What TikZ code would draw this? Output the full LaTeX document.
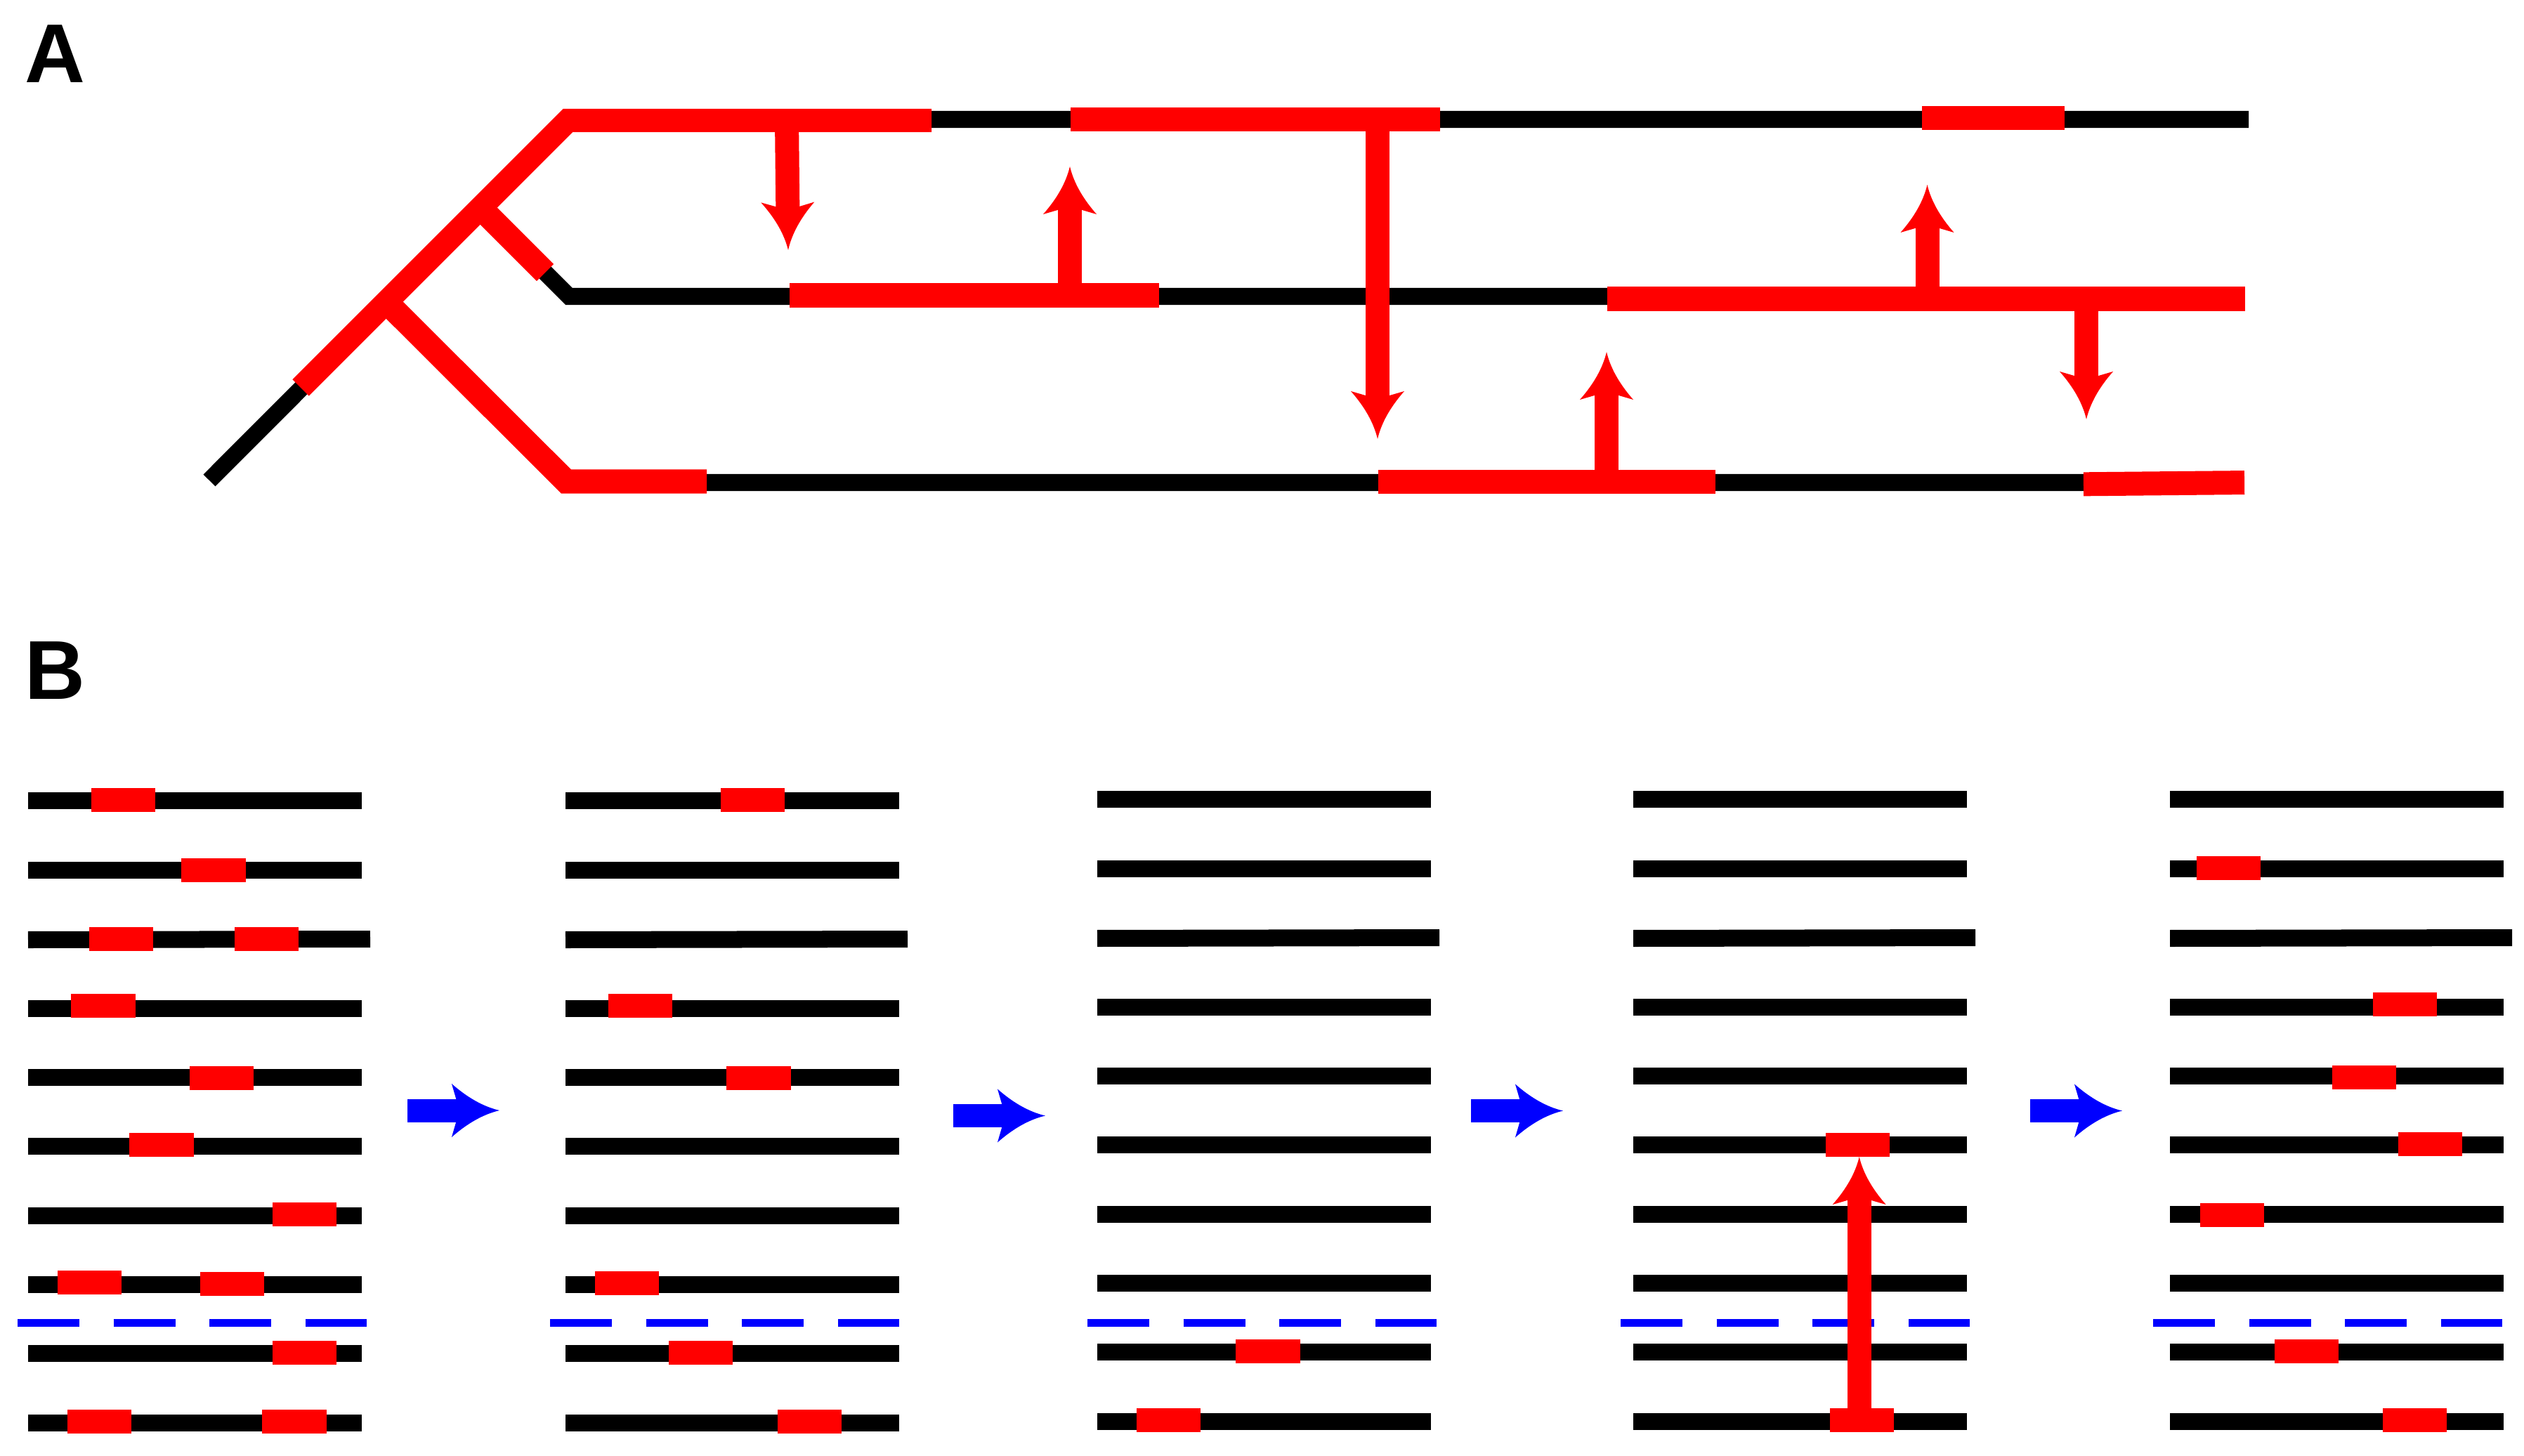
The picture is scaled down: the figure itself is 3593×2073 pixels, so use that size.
\documentclass[tikz,border=0pt]{standalone}
\usepackage{fontspec}
\setmainfont{Liberation Sans}
\usepackage{tikz}
\pgfdeclarearrow{
  name=Barb,
  setup code={
    \pgfarrowssettipend{0pt}
    \pgfarrowssetlineend{-16.2pt}
    \pgfarrowssetvisualbackend{-19.35pt}
    \pgfarrowssetbackend{-19.35pt}
  },
  drawing code={
    \pgfpathmoveto{\pgfpoint{0pt}{0pt}}
    \pgfpathquadraticcurveto{\pgfpoint{-9.67pt}{2.28pt}}{\pgfpoint{-19.35pt}{10.81pt}}
    \pgfpathlineto{\pgfpoint{-16.2pt}{0pt}}
    \pgfpathlineto{\pgfpoint{-19.35pt}{-10.81pt}}
    \pgfpathquadraticcurveto{\pgfpoint{-9.67pt}{-2.28pt}}{\pgfpoint{0pt}{0pt}}
    \pgfpathclose
    \pgfusepathqfill
  }
}

\begin{document}
\begin{tikzpicture}[x=0.01cm, y=-0.01cm,
  lane/.style = {draw=black, line width=0.24cm},
  redbar/.style = {draw=red, line width=0.33cm},
  cutline/.style = {draw=blue, line width=0.11cm, dash pattern=on 0.88cm off 0.485cm},
  seg/.style = {fill=red, inner sep=0pt, minimum height=0.34cm},
  hit/.style = {seg, minimum width=0.91cm},
  jump/.style = {draw=red, line width=0.34cm, -Barb},
  flow/.style = {draw=blue, line width=0.33cm, -Barb},
  tag/.style = {anchor=base west, inner sep=0pt, font=\bfseries\fontsize{33.8pt}{40pt}\selectfont}]
\useasboundingbox (0,0) rectangle (3593,2073);
\node[tag] (tagA) at (35,118) {A};
\node[tag] (tagB) at (35,995) {B};

\coordinate (stem) at (298,684);
\coordinate (apex) at (811,170);
\coordinate (topend) at (3201,170);
\coordinate (fork1) at (684,296);
\coordinate (bend1) at (810,422);
\coordinate (midend) at (3195,422);
\coordinate (fork2) at (550,430);
\coordinate (bend2) at (806,687);
\coordinate (lowend) at (3193,687);
\draw[lane] (stem) -- (apex) -- (topend);
\draw[lane] (fork1) -- (bend1) -- (midend);
\draw[lane] (fork2) -- (bend2) -- (lowend);

\coordinate (stemcut) at (428,552);
\coordinate (apexr) at (808.5,171.5);
\coordinate (top1) at (1326,171.5);
\coordinate (branch) at (776,388);
\coordinate (bendr) at (806,685.5);
\coordinate (low1) at (1006,685.5);
\draw[redbar] (stemcut) -- (apexr) -- (top1);
\draw[redbar, line width=0.34cm] (fork1) -- (branch);
\draw[redbar, line width=0.34cm] (fork2) -- (bendr) -- (low1);

\node[seg, minimum width=5.26cm] (top2) at (1787,170) {};
\node[seg, minimum width=2.03cm] (top3) at (2837.5,168) {};
\node[seg, minimum width=5.265cm] (mid1) at (1387,420.5) {};
\node[seg, minimum width=9.08cm] (mid2) at (2742,425.5) {};
\node[seg, minimum width=4.795cm] (low2) at (2201.7,686) {};
\node[seg, minimum width=2.29cm, rotate=0.57] (low3) at (3080.5,688.2) {};

\coordinate (drop) at (1120,171.5);
\coordinate (tipa) at (1122,356);
\coordinate (tipb) at (1523,237);
\coordinate (tipc) at (1961,625);
\coordinate (tipd) at (2743.5,263);
\coordinate (tipe) at (2970,597);
\coordinate (tipf) at (2287,501);
\draw[jump] (drop) -- (tipa);
\draw[jump] (tipb |- mid1) -- (tipb);
\draw[jump] (tipc |- top2) -- (tipc);
\draw[jump] (tipd |- mid2) -- (tipd);
\draw[jump] (tipe |- mid2) -- (tipe);
\draw[jump] (tipf |- low2) -- (tipf);

\foreach \xa/\dy in {40/0, 805/0, 1562/-2, 2325/-2, 3089/-2} {
  \foreach \ya in {1140,1239,1436,1534,1632,1731,1829,1927,2026}
    \draw[lane] (\xa,\ya+\dy) -- (\xa+475,\ya+\dy);
  \draw[lane] (\xa,1338+\dy) -- (\xa+487,1337+\dy);
}
\foreach \xa/\ya in {25/1883, 783/1883, 1548/1883, 2307/1883, 3065/1883}
  \draw[cutline] (\xa,\ya) -- (\xa+497,\ya);

\foreach \nm/\xa/\ya in {a1/175.5/1139, a2/304/1239, a3/172.5/1337, a4/379.5/1337,
  a5/147/1432, a6/315.5/1535, a7/230/1630, a8/433.5/1729, a9/127.5/1826, a10/330.5/1828,
  a11/433.5/1925.5, a12/141.5/2023.5, a13/419/2024,
  b1/1071.5/1139, b2/911.5/1432, b3/1080/1535, b4/892.5/1826.5, b5/997.5/1925.5, b6/1152.5/2023.5,
  c1/1805/1924, c2/1663.5/2022,
  d1/2644.5/1630, d2/2650.5/2022,
  e1/3172.5/1236, e2/3423.5/1430, e3/3365.5/1533.5, e4/3459/1629, e5/3177.5/1730,
  e6/3283/1924, e7/3437.5/2022}
  \node[hit] (\nm) at (\xa,\ya) {};

\coordinate (tipg) at (2646.7,1647);
\draw[jump] (tipg |- d2) -- (tipg);

\foreach \nm/\xa/\ya in {p/580/1581, q/1357/1588.5, r/2094/1581.5, s/2890/1581.5} {
  \coordinate (\nm from) at (\xa,\ya);
  \coordinate (\nm to) at (\xa+131,\ya);
  \draw[flow] (\nm from) -- (\nm to);
}
\end{tikzpicture}
\end{document}
